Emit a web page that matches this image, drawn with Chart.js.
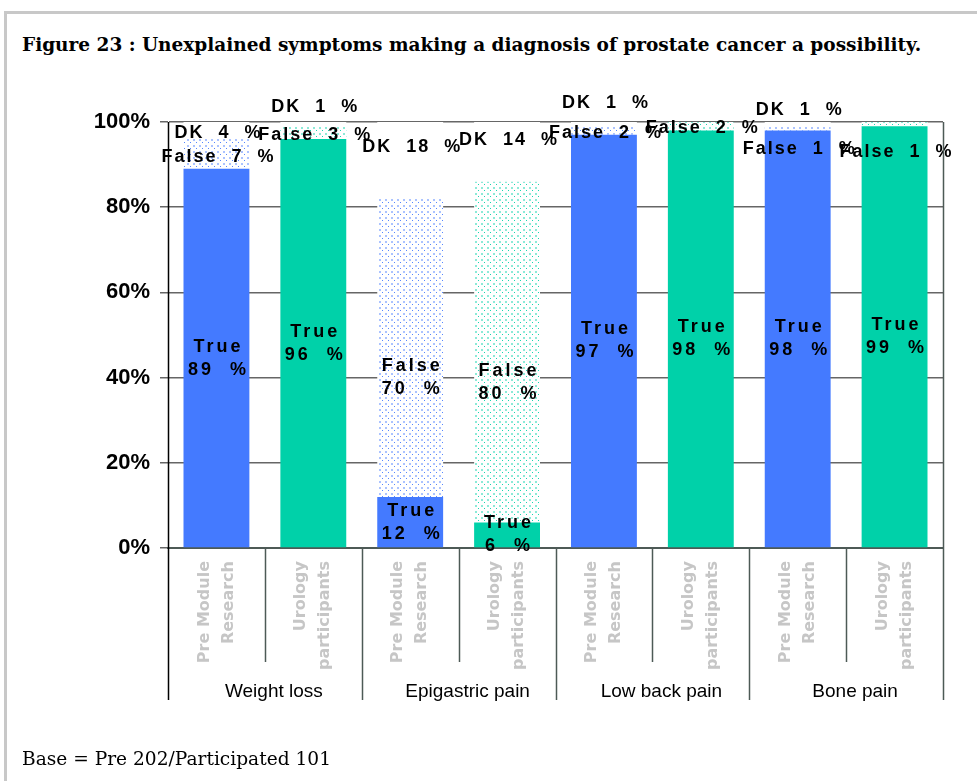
<!DOCTYPE html>
<html>
<head>
<meta charset="utf-8">
<script src="https://cdn.jsdelivr.net/npm/chart.js@4.4.1/dist/chart.umd.min.js"></script>
<style>
  html, body { margin: 0; padding: 0; background: #fff; }
  body { width: 977px; height: 781px; position: relative; overflow: hidden; }
  .frame { position: absolute; left: 4px; top: 11px; right: 0; bottom: 0;
           border-top: 3px solid #c8c8c8; border-left: 3px solid #c8c8c8; }
  .titulo { position: absolute; left: 22px; top: 34px; font: bold 18.5px 'DejaVu Serif', serif;
            color: #000; white-space: nowrap; }
  .base { position: absolute; left: 22px; top: 748px; font: 18.6px 'DejaVu Serif', serif; color: #000; }
  canvas { position: absolute; left: 0; top: 0; }
</style>
</head>
<body>
<div class="frame"></div>
<div class="titulo">Figure 23 : Unexplained symptoms making a diagnosis of prostate cancer a possibility.</div>
<canvas id="grafico" width="977" height="781"></canvas>
<div class="base">Base = Pre 202/Participated 101</div>

<script>
/* ─── Dados ─── */
const GRUPOS = ['Weight loss', 'Epigastric pain', 'Low back pain', 'Bone pain'];
const AMOSTRAS = [
  ['Pre Module', 'Research'], ['Urology', 'participants'],
  ['Pre Module', 'Research'], ['Urology', 'participants'],
  ['Pre Module', 'Research'], ['Urology', 'participants'],
  ['Pre Module', 'Research'], ['Urology', 'participants']
];
const VAL_TRUE  = [89, 96, 12,  6, 97, 98, 98, 99];
const VAL_FALSE = [ 7,  3, 70, 80,  2,  2,  1,  1];
const VAL_DK    = [ 4,  1, 18, 14,  1,  0,  1,  0];
const Y_TICKS   = [0, 20, 40, 60, 80, 100];

/* ─── Estilo ─── */
const AZUL  = '#447aff';
const VERDE = '#00d1a9';
const corBarra = i => (i % 2 === 0 ? AZUL : VERDE);

// deslocamento vertical dos rótulos (px), como no original
const NUDGE = {
  False: [3, 2, 30, 30, 3, 2, 21, 28],
  DK:    [3, -17, -13, -12, -21, 0, -14, 0]
};

function padraoPontos(cor) {
  const c = document.createElement('canvas');
  c.width = 6; c.height = 6;
  const g = c.getContext('2d');
  g.fillStyle = '#fff';
  g.fillRect(0, 0, 6, 6);
  g.fillStyle = cor;
  g.globalAlpha = 0.45;
  g.fillRect(1, 1, 2, 2);
  g.globalAlpha = 0.9;
  g.fillRect(4, 4, 1, 1);
  return g.createPattern(c, 'repeat');
}
const PAD_AZUL = padraoPontos(AZUL);
const PAD_VERDE = padraoPontos(VERDE);

/* ─── Rótulos das barras ─── */
const rotulosPlugin = {
  id: 'rotulos',
  afterDatasetsDraw(chart) {
    const ctx = chart.ctx;
    ctx.save();
    ctx.font = 'bold 18px "Liberation Sans", Arial, sans-serif';
    ctx.fillStyle = '#000';
    ctx.textAlign = 'center';
    ctx.textBaseline = 'middle';
    chart.data.datasets.forEach((ds, d) => {
      const meta = chart.getDatasetMeta(d);
      meta.data.forEach((bar, i) => {
        const v = ds.data[i];
        if (!v) return;
        const { x, y, base } = bar.getProps(['x', 'y', 'base'], true);
        let cy = (y + base) / 2;
        let linhas;
        if (ds.label === 'True' || v >= 20) {
          linhas = [ds.label, `${v}  %`];
        } else {
          linhas = [`${ds.label}  ${v}  %`];
        }
        ctx.letterSpacing = linhas.length > 1 ? '3px' : '2px';
        if (NUDGE[ds.label]) cy += NUDGE[ds.label][i];
        const lh = 23;
        const y0 = cy - (linhas.length - 1) * lh / 2;
        linhas.forEach((t, k) => ctx.fillText(t, x + 2, y0 + k * lh));
      });
    });
    ctx.restore();
  }
};

/* ─── Separadores do eixo X ─── */
const separadoresPlugin = {
  id: 'separadores',
  afterDraw(chart) {
    const { ctx, chartArea } = chart;
    const xs = chart.scales.x;
    const passo = (chartArea.right - chartArea.left) / AMOSTRAS.length;
    ctx.save();
    ctx.lineWidth = 1.5;
    for (let i = 0; i <= AMOSTRAS.length; i++) {
      const px = Math.round(chartArea.left + i * passo) + 0.5;
      const fim = i % 2 === 0 ? xs.bottom + 28 : xs.bottom - 10;
      ctx.strokeStyle = i === 0 ? '#000' : '#4d5a56';
      ctx.beginPath();
      ctx.moveTo(px, i === 0 || i === AMOSTRAS.length ? chartArea.top : chartArea.bottom);
      ctx.lineTo(px, fim);
      ctx.stroke();
    }
    ctx.restore();
  }
};

const ctx = document.getElementById('grafico').getContext('2d');
new Chart(ctx, {
  type: 'bar',
  data: {
    labels: AMOSTRAS,
    datasets: [
      {
        label: 'True',
        data: VAL_TRUE,
        backgroundColor: VAL_TRUE.map((_, i) => corBarra(i)),
        barPercentage: 0.68,
        categoryPercentage: 1
      },
      {
        label: 'False',
        data: VAL_FALSE,
        backgroundColor: VAL_FALSE.map((_, i) => (i % 2 === 0 ? PAD_AZUL : PAD_VERDE)),
        barPercentage: 0.68,
        categoryPercentage: 1
      },
      {
        label: 'DK',
        data: VAL_DK,
        backgroundColor: '#ffffff',
        barPercentage: 0.68,
        categoryPercentage: 1
      }
    ]
  },
  options: {
    responsive: false,
    animation: false,
    layout: { padding: { left: 0, right: 34, top: 122, bottom: 69 } },
    plugins: { legend: { display: false }, tooltip: { enabled: false } },
    scales: {
      x: {
        stacked: true,
        weight: 0,
        grid: { display: false },
        border: { color: '#4d5a56', width: 2 },
        ticks: {
          autoSkip: false,
          minRotation: 90,
          maxRotation: 90,
          padding: 5,
          labelOffset: -12,
          color: '#c6c6c6',
          font: { family: "'DejaVu Sans', sans-serif", size: 16, weight: 'bold', lineHeight: 1.5 }
        },
        afterFit: s => { s.height = 124; }
      },
      x2: {
        type: 'category',
        labels: GRUPOS,
        position: 'bottom',
        offset: true,
        weight: 1,
        grid: { display: false },
        border: { display: false },
        ticks: {
          padding: 0,
          labelOffset: 9,
          color: '#000',
          font: { family: "'Liberation Sans', Arial, sans-serif", size: 19 }
        },
        afterFit: s => { s.height = 40; }
      },
      y: {
        stacked: true,
        min: 0,
        max: 100,
        afterBuildTicks: s => { s.ticks = Y_TICKS.map(v => ({ value: v })); },
        grid: { color: '#666', lineWidth: 1.5, tickLength: 8 },
        border: { color: '#000', width: 1 },
        ticks: {
          padding: 10,
          color: '#000',
          font: { family: "'Liberation Sans', Arial, sans-serif", size: 22, weight: 'bold' },
          callback: v => v + '%'
        },
        afterFit: s => { s.width = 168; }
      }
    }
  },
  plugins: [rotulosPlugin, separadoresPlugin]
});
</script>
</body>
</html>
